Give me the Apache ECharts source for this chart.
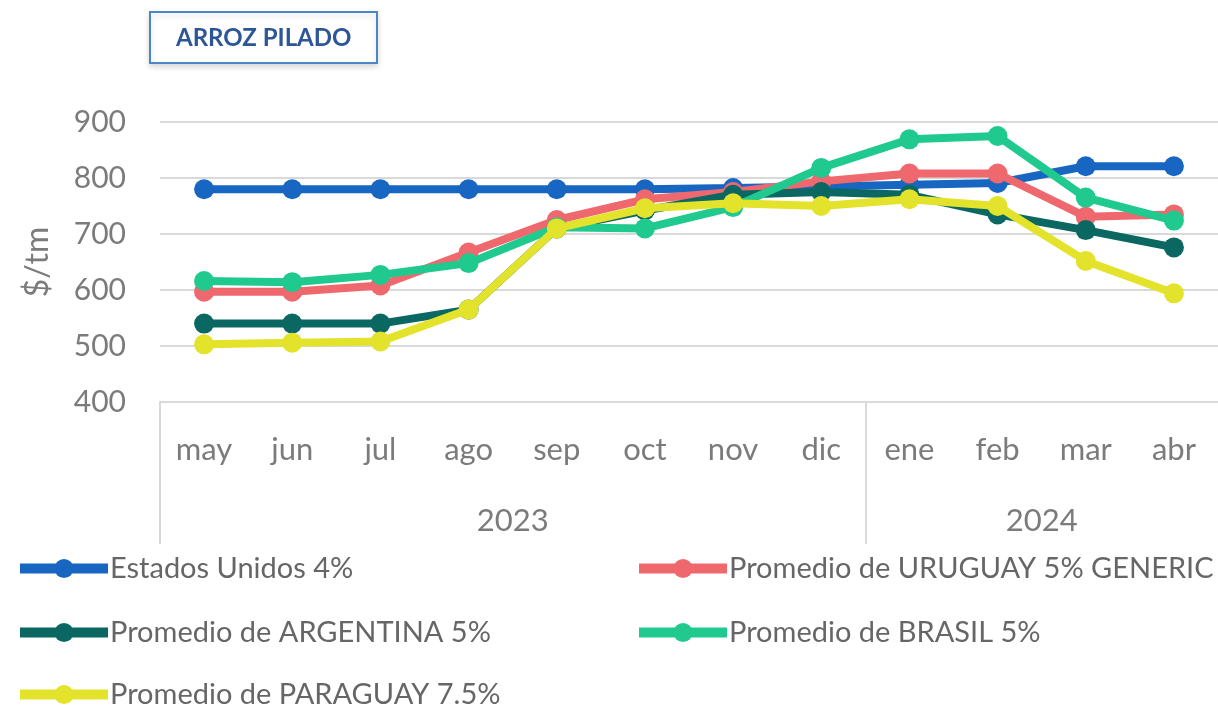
<!DOCTYPE html>
<html lang="es">
<head>
    <meta charset="UTF-8">
    <title>Arroz pilado</title>
    <style>
        html, body { margin: 0; padding: 0; background: #fff; }
        #chart { width: 1218px; height: 707px; }
    </style>
</head>
<body>
<div id="chart"></div>

<script src="https://cdn.jsdelivr.net/npm/echarts@6/dist/echarts.min.js"></script>
<script>
    // meses (eje x) y años
    var meses = ['may', 'jun', 'jul', 'ago', 'sep', 'oct', 'nov', 'dic', 'ene', 'feb', 'mar', 'abr'];
    var anios = ['2023', '2024'];
    var mesesPorAnio = [8, 4];
    var yTicks = [400, 500, 600, 700, 800, 900];

    // precios $/tm
    var estadosUnidos = [780, 780, 780, 780, 780, 780, 782, 785, 788, 791, 821, 821];
    var uruguay = [597, 597, 608, 667, 725, 762, 775, 794, 808, 808, 731, 735];
    var argentina = [540, 540, 540, 565, 710, 742, 770, 775, 770, 735, 707, 676];
    var brasil = [616, 614, 627, 648, 712, 710, 748, 818, 869, 875, 765, 724];
    var paraguay = [503, 506, 508, 565, 710, 746, 755, 750, 762, 750, 652, 594];

    var nombres = ['Estados Unidos 4%', 'Promedio de URUGUAY 5% GENERIC', 'Promedio de ARGENTINA 5%',
        'Promedio de BRASIL 5%', 'Promedio de PARAGUAY 7.5%'];
    var colores = ['#1766c2', '#ef686e', '#0b6761', '#20c98e', '#e3e32c'];
    var datos = [estadosUnidos, uruguay, argentina, brasil, paraguay];

    var fuente = 'Lato';
    var gris = '#7b7b7b';

    // separadores y etiquetas de año
    var cortes = [0], centros = [], acum = 0;
    for (var i = 0; i < mesesPorAnio.length; i++) {
        centros.push(acum + mesesPorAnio[i] / 2);
        acum += mesesPorAnio[i];
        cortes.push(acum);
    }

    var myChart = echarts.init(document.getElementById('chart'));

    var series = [];
    for (var k = 0; k < datos.length; k++) {
        series.push({
            name: nombres[k],
            type: 'line',
            data: datos[k],
            symbol: 'circle',
            symbolSize: 20,
            color: colores[k],
            lineStyle: {width: 8, color: colores[k]},
            itemStyle: {color: colores[k]},
            emphasis: {disabled: true},
            z: 10 + k
        });
    }

    // posiciones de la leyenda: dos columnas
    var posLeyenda = [[10, 549], [629, 549], [10, 613], [629, 613], [10, 675]];
    var leyendas = [];
    for (var j = 0; j < nombres.length; j++) {
        leyendas.push({
            data: [nombres[j]],
            left: posLeyenda[j][0],
            top: posLeyenda[j][1],
            itemWidth: 88,
            itemHeight: 24,
            itemGap: 4,
            selectedMode: false,
            lineStyle: {width: 10},
            textStyle: {fontFamily: fuente, fontSize: 29, color: '#666666', padding: [0, 0, 0, -3]}
        });
    }

    var option = {
        animation: false,
        title: {
            text: 'ARROZ PILADO',
            left: 150,
            top: 12,
            padding: [14, 26, 13, 26],
            borderColor: '#4a86c8',
            borderWidth: 2,
            backgroundColor: '#fff',
            shadowColor: 'rgba(0,0,0,0.15)',
            shadowBlur: 6,
            shadowOffsetY: 3,
            textStyle: {fontFamily: fuente, fontSize: 24, fontWeight: 'bold', color: '#2c5697'}
        },
        legend: leyendas,
        grid: {left: 160, right: 0, top: 122, bottom: 305, containLabel: false},
        xAxis: [{
            type: 'category',
            data: meses,
            boundaryGap: true,
            axisLine: {lineStyle: {color: '#d9d9d9', width: 2}},
            axisTick: {show: false},
            axisLabel: {
                fontFamily: fuente, fontSize: 31, color: gris,
                margin: 48, verticalAlign: 'middle', interval: 0
            }
        }, {
            type: 'value',
            min: 0,
            max: meses.length,
            position: 'bottom',
            axisLine: {show: false},
            splitLine: {show: false},
            axisTick: {
                show: true, inside: false, length: 142,
                customValues: cortes.slice(0, cortes.length - 1),
                lineStyle: {color: '#d9d9d9', width: 2}
            },
            axisLabel: {
                fontFamily: fuente, fontSize: 31, color: gris,
                margin: 119, verticalAlign: 'middle',
                customValues: centros,
                formatter: function (v) {
                    return anios[centros.indexOf(v)];
                }
            }
        }],
        yAxis: {
            type: 'value',
            min: yTicks[0],
            max: yTicks[yTicks.length - 1],
            interval: 100,
            name: '$/tm',
            nameLocation: 'middle',
            nameGap: 106,
            nameRotate: 90,
            nameTextStyle: {fontFamily: fuente, fontSize: 32, color: gris},
            axisLine: {show: false},
            axisTick: {show: false},
            splitLine: {lineStyle: {color: '#d9d9d9', width: 2}},
            axisLabel: {fontFamily: fuente, fontSize: 30, color: gris, margin: 34}
        },
        series: series
    };

    myChart.setOption(option);
</script>
</body>
</html>
